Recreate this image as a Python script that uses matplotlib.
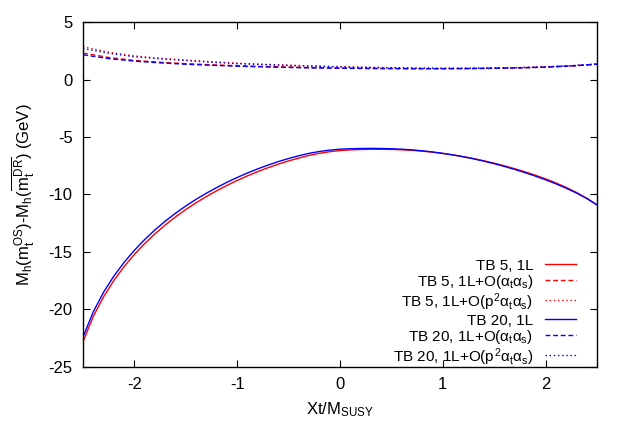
import numpy as np
import matplotlib
matplotlib.use('Agg')
import matplotlib.pyplot as plt

plt.rcParams['font.family'] = ['Liberation Sans', 'DejaVu Sans']
plt.rcParams['mathtext.fontset'] = 'custom'
plt.rcParams['mathtext.rm'] = 'Liberation Sans'
plt.rcParams['mathtext.it'] = 'Liberation Sans'
plt.rcParams['mathtext.bf'] = 'Liberation Sans:bold'
plt.rcParams['axes.unicode_minus'] = False
plt.rcParams['font.size'] = 12

# Xt/M_SUSY grid for the 1L curves
xt_1l = [-2.5, -2.4, -2.3, -2.2, -2.1, -2.0, -1.9, -1.8, -1.7, -1.6, -1.5, -1.4, -1.3,
         -1.2, -1.1, -1.0, -0.9, -0.8, -0.7, -0.6, -0.5, -0.4, -0.3, -0.2, -0.1, 0.0,
         0.1, 0.2, 0.3, 0.4, 0.5, 0.6, 0.7, 0.8, 0.9, 1.0, 1.1, 1.2, 1.3, 1.4, 1.5,
         1.6, 1.7, 1.8, 1.9, 2.0, 2.1, 2.2, 2.3, 2.4, 2.5]

tb20_1l = [-22.4, -20.2, -18.5, -17.1, -15.9, -14.85, -13.92, -13.08, -12.32, -11.63, -11.0,
           -10.42, -9.89, -9.4, -8.94, -8.52, -8.13, -7.77, -7.44, -7.14, -6.87, -6.63, -6.42,
           -6.26, -6.14, -6.06, -6.02, -6.0, -5.99, -6.0, -6.02, -6.06, -6.12, -6.2, -6.3,
           -6.42, -6.56, -6.72, -6.9, -7.1, -7.32, -7.56, -7.82, -8.1, -8.4, -8.72, -9.07,
           -9.45, -9.87, -10.35, -10.9]
tb5_1l = [-22.8, -20.6, -18.9, -17.48, -16.27, -15.21, -14.27, -13.42, -12.65, -11.95, -11.31,
          -10.72, -10.18, -9.68, -9.21, -8.78, -8.38, -8.01, -7.67, -7.36, -7.08, -6.83, -6.6,
          -6.42, -6.28, -6.18, -6.12, -6.09, -6.07, -6.07, -6.08, -6.11, -6.16, -6.23, -6.32,
          -6.43, -6.56, -6.71, -6.88, -7.07, -7.28, -7.51, -7.76, -8.03, -8.32, -8.64, -8.99,
          -9.38, -9.82, -10.32, -10.9]

# Xt/M_SUSY grid for the higher order curves
xt_ho = [-2.5, -2.25, -2.0, -1.75, -1.5, -1.25, -1.0, -0.75, -0.5, -0.25, 0.0,
         0.25, 0.5, 0.75, 1.0, 1.25, 1.5, 1.75, 2.0, 2.25, 2.5]

tb5_as = [2.3, 1.92, 1.66, 1.5, 1.38, 1.28, 1.2, 1.13, 1.08, 1.03, 1.0,
          0.97, 0.96, 0.95, 0.95, 0.96, 0.98, 1.02, 1.08, 1.18, 1.33]
tb5_p2 = [2.85, 2.38, 2.05, 1.85, 1.7, 1.55, 1.42, 1.33, 1.25, 1.18, 1.12,
          1.07, 1.03, 1.0, 0.98, 0.98, 1.0, 1.04, 1.1, 1.2, 1.35]
tb20_as = [2.15, 1.82, 1.6, 1.45, 1.33, 1.24, 1.16, 1.1, 1.05, 1.01, 0.98,
           0.96, 0.95, 0.94, 0.94, 0.95, 0.97, 1.01, 1.08, 1.18, 1.33]
tb20_p2 = [2.7, 2.28, 1.98, 1.8, 1.65, 1.5, 1.38, 1.3, 1.22, 1.16, 1.1,
           1.05, 1.02, 0.99, 0.97, 0.98, 1.0, 1.04, 1.1, 1.2, 1.35]

labels = ['TB 5, 1L',
          r'TB 5, 1L+O($\alpha_t\alpha_s$)',
          r'TB 5, 1L+O($p^2\alpha_t\alpha_s$)',
          'TB 20, 1L',
          r'TB 20, 1L+O($\alpha_t\alpha_s$)',
          r'TB 20, 1L+O($p^2\alpha_t\alpha_s$)']

dash = (0, (3.5, 2))
dot = (0, (1, 2))

fig = plt.figure(figsize=(6.29, 4.41), dpi=100)
ax = fig.add_axes([0.132, 0.168, 0.817, 0.782])

ax.plot(xt_1l, tb5_1l, color='#ff0000', lw=1.0, ls='-', label=labels[0])
ax.plot(xt_ho, tb5_as, color='#ff0000', lw=1.0, ls=dash, label=labels[1])
ax.plot(xt_ho, tb5_p2, color='#ff0000', lw=1.0, ls=dot, label=labels[2])
ax.plot(xt_1l, tb20_1l, color='#0000ff', lw=1.0, ls='-', label=labels[3])
ax.plot(xt_ho, tb20_as, color='#0000ff', lw=1.0, ls=dash, label=labels[4])
ax.plot(xt_ho, tb20_p2, color='#0000ff', lw=1.0, ls=dot, label=labels[5])

ax.set_xlim(-2.5, 2.5)
ax.set_ylim(-25, 5)
ax.set_xticks([-2, -1, 0, 1, 2])
ax.set_yticks([5, 0, -5, -10, -15, -20, -25])
ax.tick_params(direction='in', top=True, right=True, length=5, width=0.8, pad=7.5)
for s in ax.spines.values():
    s.set_linewidth(1.0)

ax.set_xlabel(r'Xt/M$_{\mathregular{SUSY}}$', labelpad=6)
ax.set_ylabel(r'M$_h$(m$_t^{OS}$)-M$_h$($\overline{m_t^{DR}}$) (GeV)', labelpad=8)

leg = ax.legend(loc='lower right', bbox_to_anchor=(0.971, -0.02), frameon=False,
                markerfirst=False, handlelength=2.0, handletextpad=0.8,
                handleheight=1.1, labelspacing=0.0, borderaxespad=0.0,
                borderpad=0.4, fontsize=11)
for col in leg._legend_handle_box.get_children():
    col.align = 'right'

plt.savefig('out.png')
